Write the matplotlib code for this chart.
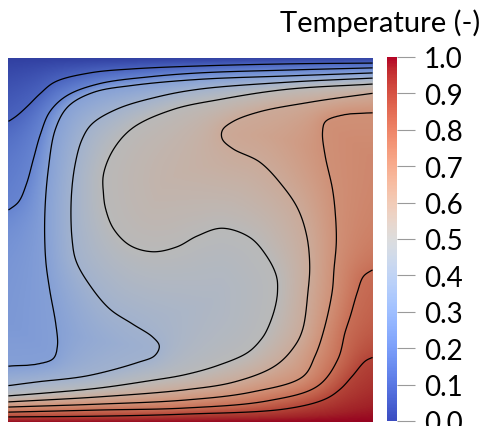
import numpy as np
import matplotlib
matplotlib.use("Agg")
import matplotlib.pyplot as plt
from matplotlib.path import Path
from matplotlib.colors import ListedColormap, Normalize
import matplotlib.cm as cm

# ---------------- data (unit square cavity) ----------------
# isotherm positions (x from left wall, y from bottom wall), ordered right wall -> left wall
iso_levels = [0.1, 0.2, 0.3, 0.4, 0.5, 0.6, 0.7, 0.8, 0.9]

iso_01_x = [1.0, 0.773, 0.526, 0.342, 0.225, 0.129, 0.088, 0.055, 0.025, 0.0]
iso_01_y = [0.986, 0.984, 0.978, 0.970, 0.959, 0.934, 0.901, 0.868, 0.841, 0.824]

iso_02_x = [1.0, 0.773, 0.526, 0.389, 0.252, 0.162, 0.115, 0.090, 0.071, 0.052, 0.030, 0.0]
iso_02_y = [0.973, 0.967, 0.959, 0.948, 0.929, 0.896, 0.852, 0.791, 0.723, 0.654, 0.604, 0.580]

iso_03_x = [1.0, 0.773, 0.526, 0.342, 0.233, 0.164, 0.129, 0.110, 0.101, 0.104, 0.115, 0.132,
            0.137, 0.126, 0.082, 0.0]
iso_03_y = [0.959, 0.951, 0.942, 0.926, 0.907, 0.868, 0.805, 0.695, 0.571, 0.448, 0.365, 0.269,
            0.209, 0.173, 0.157, 0.151]

iso_04_x = [1.0, 0.773, 0.526, 0.408, 0.299, 0.230, 0.203, 0.184, 0.173, 0.175, 0.186, 0.225,
            0.279, 0.342, 0.397, 0.416, 0.403, 0.356, 0.219, 0.082, 0.0]
iso_04_y = [0.945, 0.934, 0.915, 0.893, 0.860, 0.819, 0.777, 0.709, 0.613, 0.503, 0.442, 0.374,
            0.310, 0.269, 0.234, 0.209, 0.181, 0.162, 0.126, 0.110, 0.099]

iso_05_x = [1.0, 0.764, 0.581, 0.452, 0.342, 0.288, 0.260, 0.260, 0.266, 0.288, 0.334, 0.397,
            0.463, 0.518, 0.586, 0.663, 0.710, 0.737, 0.740, 0.732, 0.712, 0.696, 0.658, 0.575,
            0.485, 0.389, 0.252, 0.115, 0.0]
iso_05_y = [0.929, 0.915, 0.887, 0.860, 0.810, 0.750, 0.681, 0.626, 0.585, 0.530, 0.484, 0.467,
            0.481, 0.511, 0.533, 0.508, 0.456, 0.401, 0.357, 0.310, 0.255, 0.228, 0.190, 0.154,
            0.129, 0.113, 0.093, 0.080, 0.071]

iso_06_x = [1.0, 0.827, 0.690, 0.616, 0.586, 0.586, 0.616, 0.690, 0.753, 0.795, 0.819, 0.827,
            0.822, 0.808, 0.786, 0.732, 0.622, 0.485, 0.252, 0.0]
iso_06_y = [0.904, 0.879, 0.854, 0.827, 0.802, 0.777, 0.750, 0.714, 0.648, 0.585, 0.511, 0.429,
            0.357, 0.255, 0.209, 0.154, 0.110, 0.088, 0.069, 0.055]

iso_07_x = [1.0, 0.918, 0.868, 0.860, 0.868, 0.888, 0.896, 0.899, 0.893, 0.888, 0.866, 0.841,
            0.808, 0.668, 0.485, 0.252, 0.0]
iso_07_y = [0.852, 0.846, 0.827, 0.797, 0.731, 0.640, 0.571, 0.495, 0.420, 0.357, 0.255, 0.181,
            0.124, 0.082, 0.060, 0.049, 0.041]

iso_08_x = [1.0, 0.973, 0.956, 0.937, 0.923, 0.904, 0.849, 0.712, 0.485, 0.252, 0.0]
iso_08_y = [0.420, 0.401, 0.357, 0.291, 0.247, 0.173, 0.099, 0.058, 0.038, 0.033, 0.027]

iso_09_x = [1.0, 0.978, 0.942, 0.910, 0.868, 0.759, 0.485, 0.252, 0.0]
iso_09_y = [0.179, 0.168, 0.126, 0.091, 0.063, 0.036, 0.022, 0.016, 0.014]

wall_top_T = 0.0
wall_bottom_T = 1.0

cbar_ticks = [0.0, 0.1, 0.2, 0.3, 0.4, 0.5, 0.6, 0.7, 0.8, 0.9, 1.0]
cbar_labels = ["0.0", "0.1", "0.2", "0.3", "0.4", "0.5", "0.6", "0.7", "0.8", "0.9", "1.0"]
title_text = "Temperature (-)"

iso_xs = [iso_01_x, iso_02_x, iso_03_x, iso_04_x, iso_05_x, iso_06_x, iso_07_x, iso_08_x, iso_09_x]
iso_ys = [iso_01_y, iso_02_y, iso_03_y, iso_04_y, iso_05_y, iso_06_y, iso_07_y, iso_08_y, iso_09_y]


# ---------------- field reconstruction from the isotherms ----------------
def catmull_rom(xs, ys, n=24):
    P = np.column_stack([xs, ys]).astype(float)
    P = np.vstack([2 * P[0] - P[1], P, 2 * P[-1] - P[-2]])
    out = []
    for i in range(1, len(P) - 2):
        P0, P1, P2, P3 = P[i - 1], P[i], P[i + 1], P[i + 2]
        t0 = 0.0
        t1 = t0 + max(np.linalg.norm(P1 - P0), 1e-9) ** 0.5
        t2 = t1 + max(np.linalg.norm(P2 - P1), 1e-9) ** 0.5
        t3 = t2 + max(np.linalg.norm(P3 - P2), 1e-9) ** 0.5
        t = (t1 + (t2 - t1) * np.linspace(0, 1, n, endpoint=False))[:, None]
        A1 = (t1 - t) / (t1 - t0) * P0 + (t - t0) / (t1 - t0) * P1
        A2 = (t2 - t) / (t2 - t1) * P1 + (t - t1) / (t2 - t1) * P2
        A3 = (t3 - t) / (t3 - t2) * P2 + (t - t2) / (t3 - t2) * P3
        B1 = (t2 - t) / (t2 - t0) * A1 + (t - t0) / (t2 - t0) * A2
        B2 = (t3 - t) / (t3 - t1) * A2 + (t - t1) / (t3 - t1) * A3
        C = (t2 - t) / (t2 - t1) * B1 + (t - t1) / (t2 - t1) * B2
        out.append(C)
    out.append(P[-2][None, :])
    return np.vstack(out)


def poly_dist(qx, qy, curve, chunk=6000):
    ax_, ay = curve[:-1, 0], curve[:-1, 1]
    dx, dy = curve[1:, 0] - ax_, curve[1:, 1] - ay
    L2 = dx * dx + dy * dy
    L2[L2 == 0] = 1e-12
    res = np.empty(qx.size)
    for s in range(0, qx.size, chunk):
        px = qx[s:s + chunk, None]
        py = qy[s:s + chunk, None]
        t = np.clip(((px - ax_) * dx + (py - ay) * dy) / L2, 0, 1)
        ex = ax_ + t * dx - px
        ey = ay + t * dy - py
        res[s:s + chunk] = np.sqrt((ex * ex + ey * ey).min(axis=1))
    return res


def blur(A, sigma):
    r = int(3 * sigma) + 1
    k = np.exp(-0.5 * (np.arange(-r, r + 1) / sigma) ** 2)
    k /= k.sum()
    P = np.pad(A, r, mode="edge")
    P = np.apply_along_axis(lambda v: np.convolve(v, k, mode="valid"), 0, P)
    P = np.apply_along_axis(lambda v: np.convolve(v, k, mode="valid"), 1, P)
    return P


N = 440
g = (np.arange(N) + 0.5) / N
GX, GY = np.meshgrid(g, g)
qx, qy = GX.ravel(), GY.ravel()

curves = [np.array([[1.0, 1.0], [0.0, 1.0]])]
curves += [catmull_rom(x, y) for x, y in zip(iso_xs, iso_ys)]
curves += [np.array([[1.0, 0.0], [0.0, 0.0]])]
curve_levels = [wall_top_T] + iso_levels + [wall_bottom_T]

band = np.zeros(qx.size, dtype=int)
pts = np.column_stack([qx, qy])
for c in curves[1:-1]:
    poly = np.vstack([c, [[0.0, 1.0], [1.0, 1.0]]])
    cold = Path(poly).contains_points(pts)
    band += (~cold).astype(int)

D = np.array([poly_dist(qx, qy, c) for c in curves])
idx = np.arange(qx.size)
d_lo = D[band, idx]
d_hi = D[band + 1, idx]
lv = np.array(curve_levels)
T = lv[band] + (lv[band + 1] - lv[band]) * d_lo / (d_lo + d_hi + 1e-12)
T = blur(T.reshape(N, N), 1.2)

# ---------------- drawing ----------------
W, H = 485, 427
fig = plt.figure(figsize=(W / 100, H / 100), dpi=100)

base = plt.get_cmap("coolwarm")
shade = ListedColormap(base(np.linspace(0, 1, 256))[:, :3] * 0.84)

ax = fig.add_axes([8 / W, 4 / H, 365 / W, 364 / H])
ax.imshow(T, extent=[0, 1, 0, 1], origin="lower", cmap=shade, vmin=0, vmax=1,
          interpolation="bilinear", aspect="auto")
ax.contour(GX, GY, T, levels=iso_levels, colors="black", linewidths=0.9)
ax.set_xlim(0, 1)
ax.set_ylim(0, 1)
ax.axis("off")

cax = fig.add_axes([387 / W, 5 / H, 10 / W, 364 / H])
sm = cm.ScalarMappable(norm=Normalize(0, 1), cmap=base)
cb = fig.colorbar(sm, cax=cax, ticks=cbar_ticks)
cb.outline.set_visible(False)
cb.set_ticklabels(cbar_labels)
cax.tick_params(length=13, width=0.8, color="#9a9a9a", pad=6.5, labelsize=20)
for t in cax.get_yticklabels():
    t.set_fontfamily("Lato")

fig.text(480 / W, (H - 32) / H, title_text, ha="right", va="baseline",
         fontsize=21, family="Lato")

fig.savefig("out.png", dpi=100)
